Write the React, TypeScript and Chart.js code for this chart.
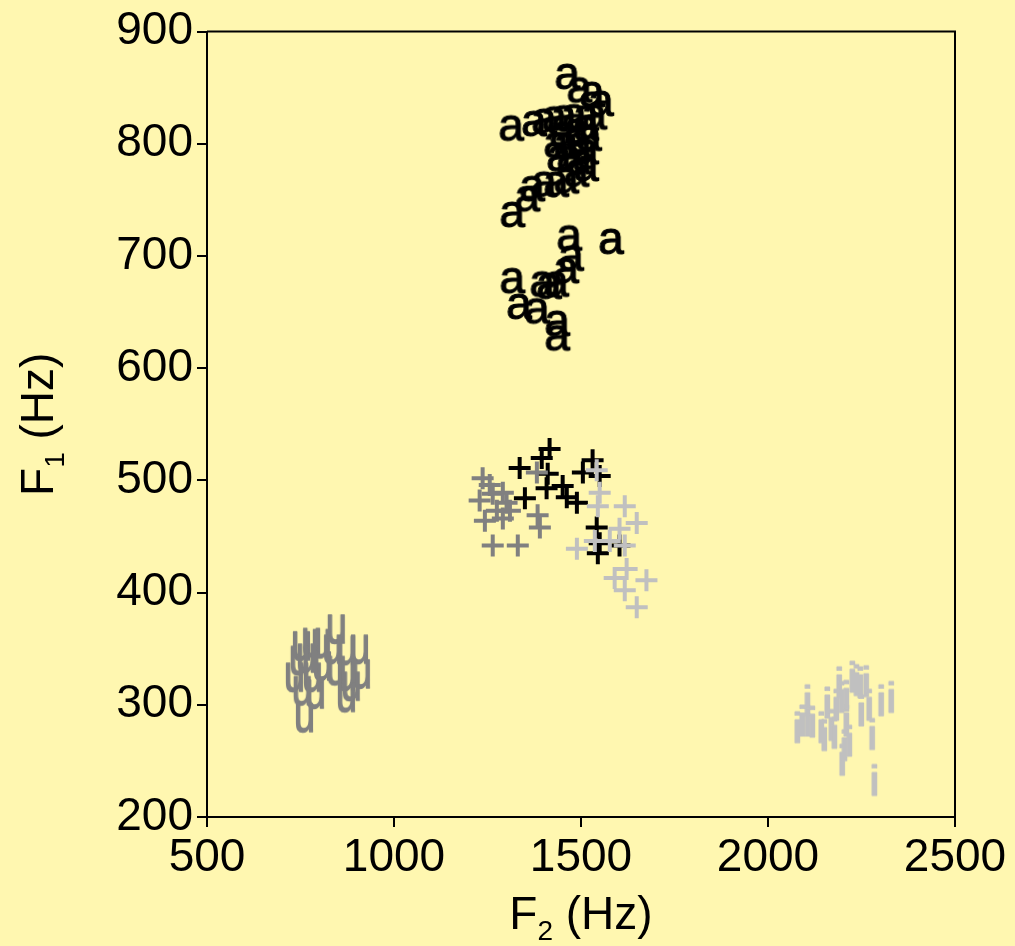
import React, { useEffect, useRef } from "react";
import { Chart, registerables } from "chart.js";

Chart.register(...registerables);

// ---- Data (F2 = x, F1 = y, Hz) ----
const aF2 = [1465, 1497, 1531, 1555, 1315, 1376, 1403, 1430, 1456, 1483, 1515, 1537, 1451, 1489, 1515, 1523, 1435, 1462, 1497, 1515, 1443, 1470, 1497, 1515, 1489, 1462, 1435, 1403, 1371, 1358, 1318, 1470, 1582, 1475, 1462, 1318, 1398, 1416, 1435, 1336, 1384, 1438, 1438];
const aF1 = [860, 848, 844, 836, 814, 818, 820, 822, 823, 824, 823, 824, 808, 811, 814, 805, 799, 798, 799, 793, 787, 787, 784, 778, 773, 767, 764, 764, 760, 751, 737, 716, 713, 698, 687, 678, 675, 673, 675, 655, 651, 640, 627];

const plusBlackF2 = [1416, 1395, 1336, 1411, 1531, 1505, 1550, 1408, 1451, 1350, 1462, 1489, 1542, 1550, 1603, 1545];
const plusBlackF1 = [528, 520, 511, 506, 518, 507, 504, 493, 495, 484, 485, 480, 458, 444, 442, 435];

const plusGrayF2 = [1237, 1229, 1264, 1291, 1301, 1275, 1243, 1291, 1384, 1390, 1264, 1331, 1382, 1256, 1310];
const plusGrayF1 = [502, 482, 488, 489, 480, 473, 464, 466, 469, 458, 442, 442, 507, 496, 473];

const plusLightF2 = [1542, 1550, 1545, 1617, 1649, 1603, 1489, 1537, 1577, 1617, 1590, 1622, 1675, 1617, 1649];
const plusLightF1 = [509, 489, 477, 477, 462, 457, 439, 446, 446, 442, 413, 421, 411, 402, 387];

const uF2 = [754, 781, 807, 847, 837, 874, 909, 767, 735, 783, 847, 874, 914, 756, 791, 874, 887, 762, 810, 748];
const uF1 = [353, 356, 355, 368, 350, 349, 350, 342, 325, 325, 331, 326, 328, 313, 310, 307, 317, 289, 335, 340];

const iF2 = [2079, 2092, 2106, 2106, 2119, 2143, 2151, 2159, 2170, 2178, 2183, 2191, 2197, 2199, 2205, 2210, 2210, 2218, 2226, 2237, 2247, 2250, 2263, 2271, 2279, 2285, 2303, 2330];
const iF1 = [280, 286, 304, 286, 285, 280, 273, 302, 282, 275, 300, 320, 307, 251, 264, 308, 286, 268, 325, 322, 320, 295, 321, 300, 274, 233, 304, 307];

const xTicks = [500, 1000, 1500, 2000, 2500];
const yTicks = [200, 300, 400, 500, 600, 700, 800, 900];

const BG = "#FFF7B0";
const FONT = '"Liberation Sans", Arial, sans-serif';

function zip(xs: number[], ys: number[]) {
  return xs.map((x, i) => ({ x, y: ys[i] }));
}

function makeGlyph(ch: string, color: string, size: number, sx = 1, sy = 1, weight = 1): HTMLCanvasElement {
  const c = document.createElement("canvas");
  let ctx = c.getContext("2d")!;
  const font = `${size}px ${FONT}`;
  ctx.font = font;
  const m = ctx.measureText(ch);
  const w = (m.actualBoundingBoxLeft + m.actualBoundingBoxRight) * sx;
  const h = (m.actualBoundingBoxAscent + m.actualBoundingBoxDescent) * sy;
  const pad = 3;
  c.width = Math.ceil(w + 2 * pad);
  c.height = Math.ceil(h + 2 * pad);
  ctx = c.getContext("2d")!;
  ctx.translate(pad, pad);
  ctx.scale(sx, sy);
  ctx.font = font;
  ctx.fillStyle = color;
  ctx.strokeStyle = color;
  ctx.lineWidth = weight;
  ctx.lineJoin = "round";
  ctx.textBaseline = "alphabetic";
  ctx.fillText(ch, m.actualBoundingBoxLeft, m.actualBoundingBoxAscent);
  ctx.strokeText(ch, m.actualBoundingBoxLeft, m.actualBoundingBoxAscent);
  return c;
}

function drawSubTitle(ctx: CanvasRenderingContext2D, main: string, sub: string, rest: string, size: number, subSize: number, subOff: number) {
  const f1 = `${size}px ${FONT}`;
  const f2 = `${subSize}px ${FONT}`;
  ctx.font = f1;
  const w1 = ctx.measureText(main).width;
  const w3 = ctx.measureText(rest).width;
  ctx.font = f2;
  const w2 = ctx.measureText(sub).width;
  const total = w1 + w2 + w3;
  let x = -total / 2;
  ctx.textBaseline = "alphabetic";
  ctx.textAlign = "left";
  ctx.fillStyle = "#000";
  ctx.font = f1;
  ctx.fillText(main, x, 0);
  x += w1;
  ctx.font = f2;
  ctx.fillText(sub, x, subOff);
  x += w2;
  ctx.font = f1;
  ctx.fillText(rest, x, 0);
}

export default function App() {
  const ref = useRef<HTMLCanvasElement | null>(null);

  useEffect(() => {
    document.body.style.margin = "0";
    document.body.style.background = BG;
    const canvas = ref.current!;
    const glyphA = makeGlyph("a", "#000000", 46, 1, 1, 1.2);
    const glyphU = makeGlyph("u", "#808080", 40, 0.95, 1.3, 1.2);
    const glyphI = makeGlyph("i", "#C0C0C0", 42, 1.25, 1, 0.8);

    const bgPlugin = {
      id: "bg",
      beforeDraw(chart: any) {
        const ctx = chart.ctx;
        ctx.save();
        ctx.fillStyle = BG;
        ctx.fillRect(0, 0, chart.width, chart.height);
        ctx.restore();
      },
    };

    const framePlugin = {
      id: "frame",
      afterDraw(chart: any) {
        const { ctx, chartArea } = chart;
        ctx.save();
        ctx.strokeStyle = "#000";
        ctx.lineWidth = 2;
        ctx.beginPath();
        ctx.moveTo(chartArea.left, chartArea.top);
        ctx.lineTo(chartArea.right, chartArea.top);
        ctx.lineTo(chartArea.right, chartArea.bottom);
        ctx.stroke();
        ctx.restore();

        // axis titles with subscripts
        const cx = (chartArea.left + chartArea.right) / 2;
        const cy = (chartArea.top + chartArea.bottom) / 2;
        ctx.save();
        ctx.translate(cx, 929);
        drawSubTitle(ctx, "F", "2", " (Hz)", 46, 28, 11);
        ctx.restore();
        ctx.save();
        ctx.translate(53, cy);
        ctx.rotate(-Math.PI / 2);
        drawSubTitle(ctx, "F", "1", " (Hz)", 46, 28, 11);
        ctx.restore();
      },
    };

    const crossSet = (label: string, xs: number[], ys: number[], color: string) => ({
      label,
      data: zip(xs, ys),
      pointStyle: "cross",
      pointRadius: 11,
      pointHoverRadius: 11,
      borderColor: color,
      backgroundColor: color,
      borderWidth: 4,
    });

    const glyphSet = (label: string, xs: number[], ys: number[], glyph: HTMLCanvasElement, color: string) => ({
      label,
      data: zip(xs, ys),
      pointStyle: glyph as any,
      pointRadius: 5,
      pointHoverRadius: 5,
      borderColor: color,
      backgroundColor: color,
    });

    const chart = new Chart(canvas, {
      type: "scatter",
      data: {
        datasets: [
          crossSet("+ (light)", plusLightF2, plusLightF1, "#C0C0C0"),
          crossSet("+ (gray)", plusGrayF2, plusGrayF1, "#808080"),
          crossSet("+ (black)", plusBlackF2, plusBlackF1, "#000000"),
          glyphSet("a", aF2, aF1, glyphA, "#000000"),
          glyphSet("u", uF2, uF1, glyphU, "#808080"),
          glyphSet("i", iF2, iF1, glyphI, "#C0C0C0"),
        ],
      },
      options: {
        animation: false,
        responsive: false,
        events: [],
        layout: { padding: { left: 0, right: 60, top: 30, bottom: 0 } },
        plugins: {
          legend: { display: false },
          tooltip: { enabled: false },
          title: { display: false },
        },
        scales: {
          x: {
            type: "linear",
            min: 500,
            max: 2500,
            afterFit(scale: any) {
              scale.height = 129;
            },
            afterBuildTicks(scale: any) {
              scale.ticks = xTicks.map((v) => ({ value: v }));
            },
            grid: {
              display: true,
              drawOnChartArea: false,
              drawTicks: true,
              tickLength: 10,
              color: "#000",
              lineWidth: 2,
            },
            border: { display: true, color: "#000", width: 2 },
            ticks: {
              color: "#000",
              font: { family: FONT, size: 46 },
              padding: 4,
              maxRotation: 0,
              autoSkip: false,
              callback: (v: any) => String(v),
            },
            title: { display: false },
          },
          y: {
            type: "linear",
            min: 200,
            max: 900,
            afterFit(scale: any) {
              scale.width = 207;
            },
            afterBuildTicks(scale: any) {
              scale.ticks = yTicks.map((v) => ({ value: v }));
            },
            grid: {
              display: true,
              drawOnChartArea: false,
              drawTicks: true,
              tickLength: 10,
              color: "#000",
              lineWidth: 2,
            },
            border: { display: true, color: "#000", width: 2 },
            ticks: {
              color: "#000",
              font: { family: FONT, size: 46 },
              padding: 4,
              autoSkip: false,
              callback: (v: any) => String(v),
            },
            title: { display: false },
          },
        },
      },
      plugins: [bgPlugin, framePlugin],
    } as any);

    return () => {
      chart.destroy();
    };
  }, []);

  return (
    <div style={{ width: 1015, height: 946, background: BG }}>
      <canvas ref={ref} width={1015} height={946} style={{ display: "block" }} />
    </div>
  );
}
